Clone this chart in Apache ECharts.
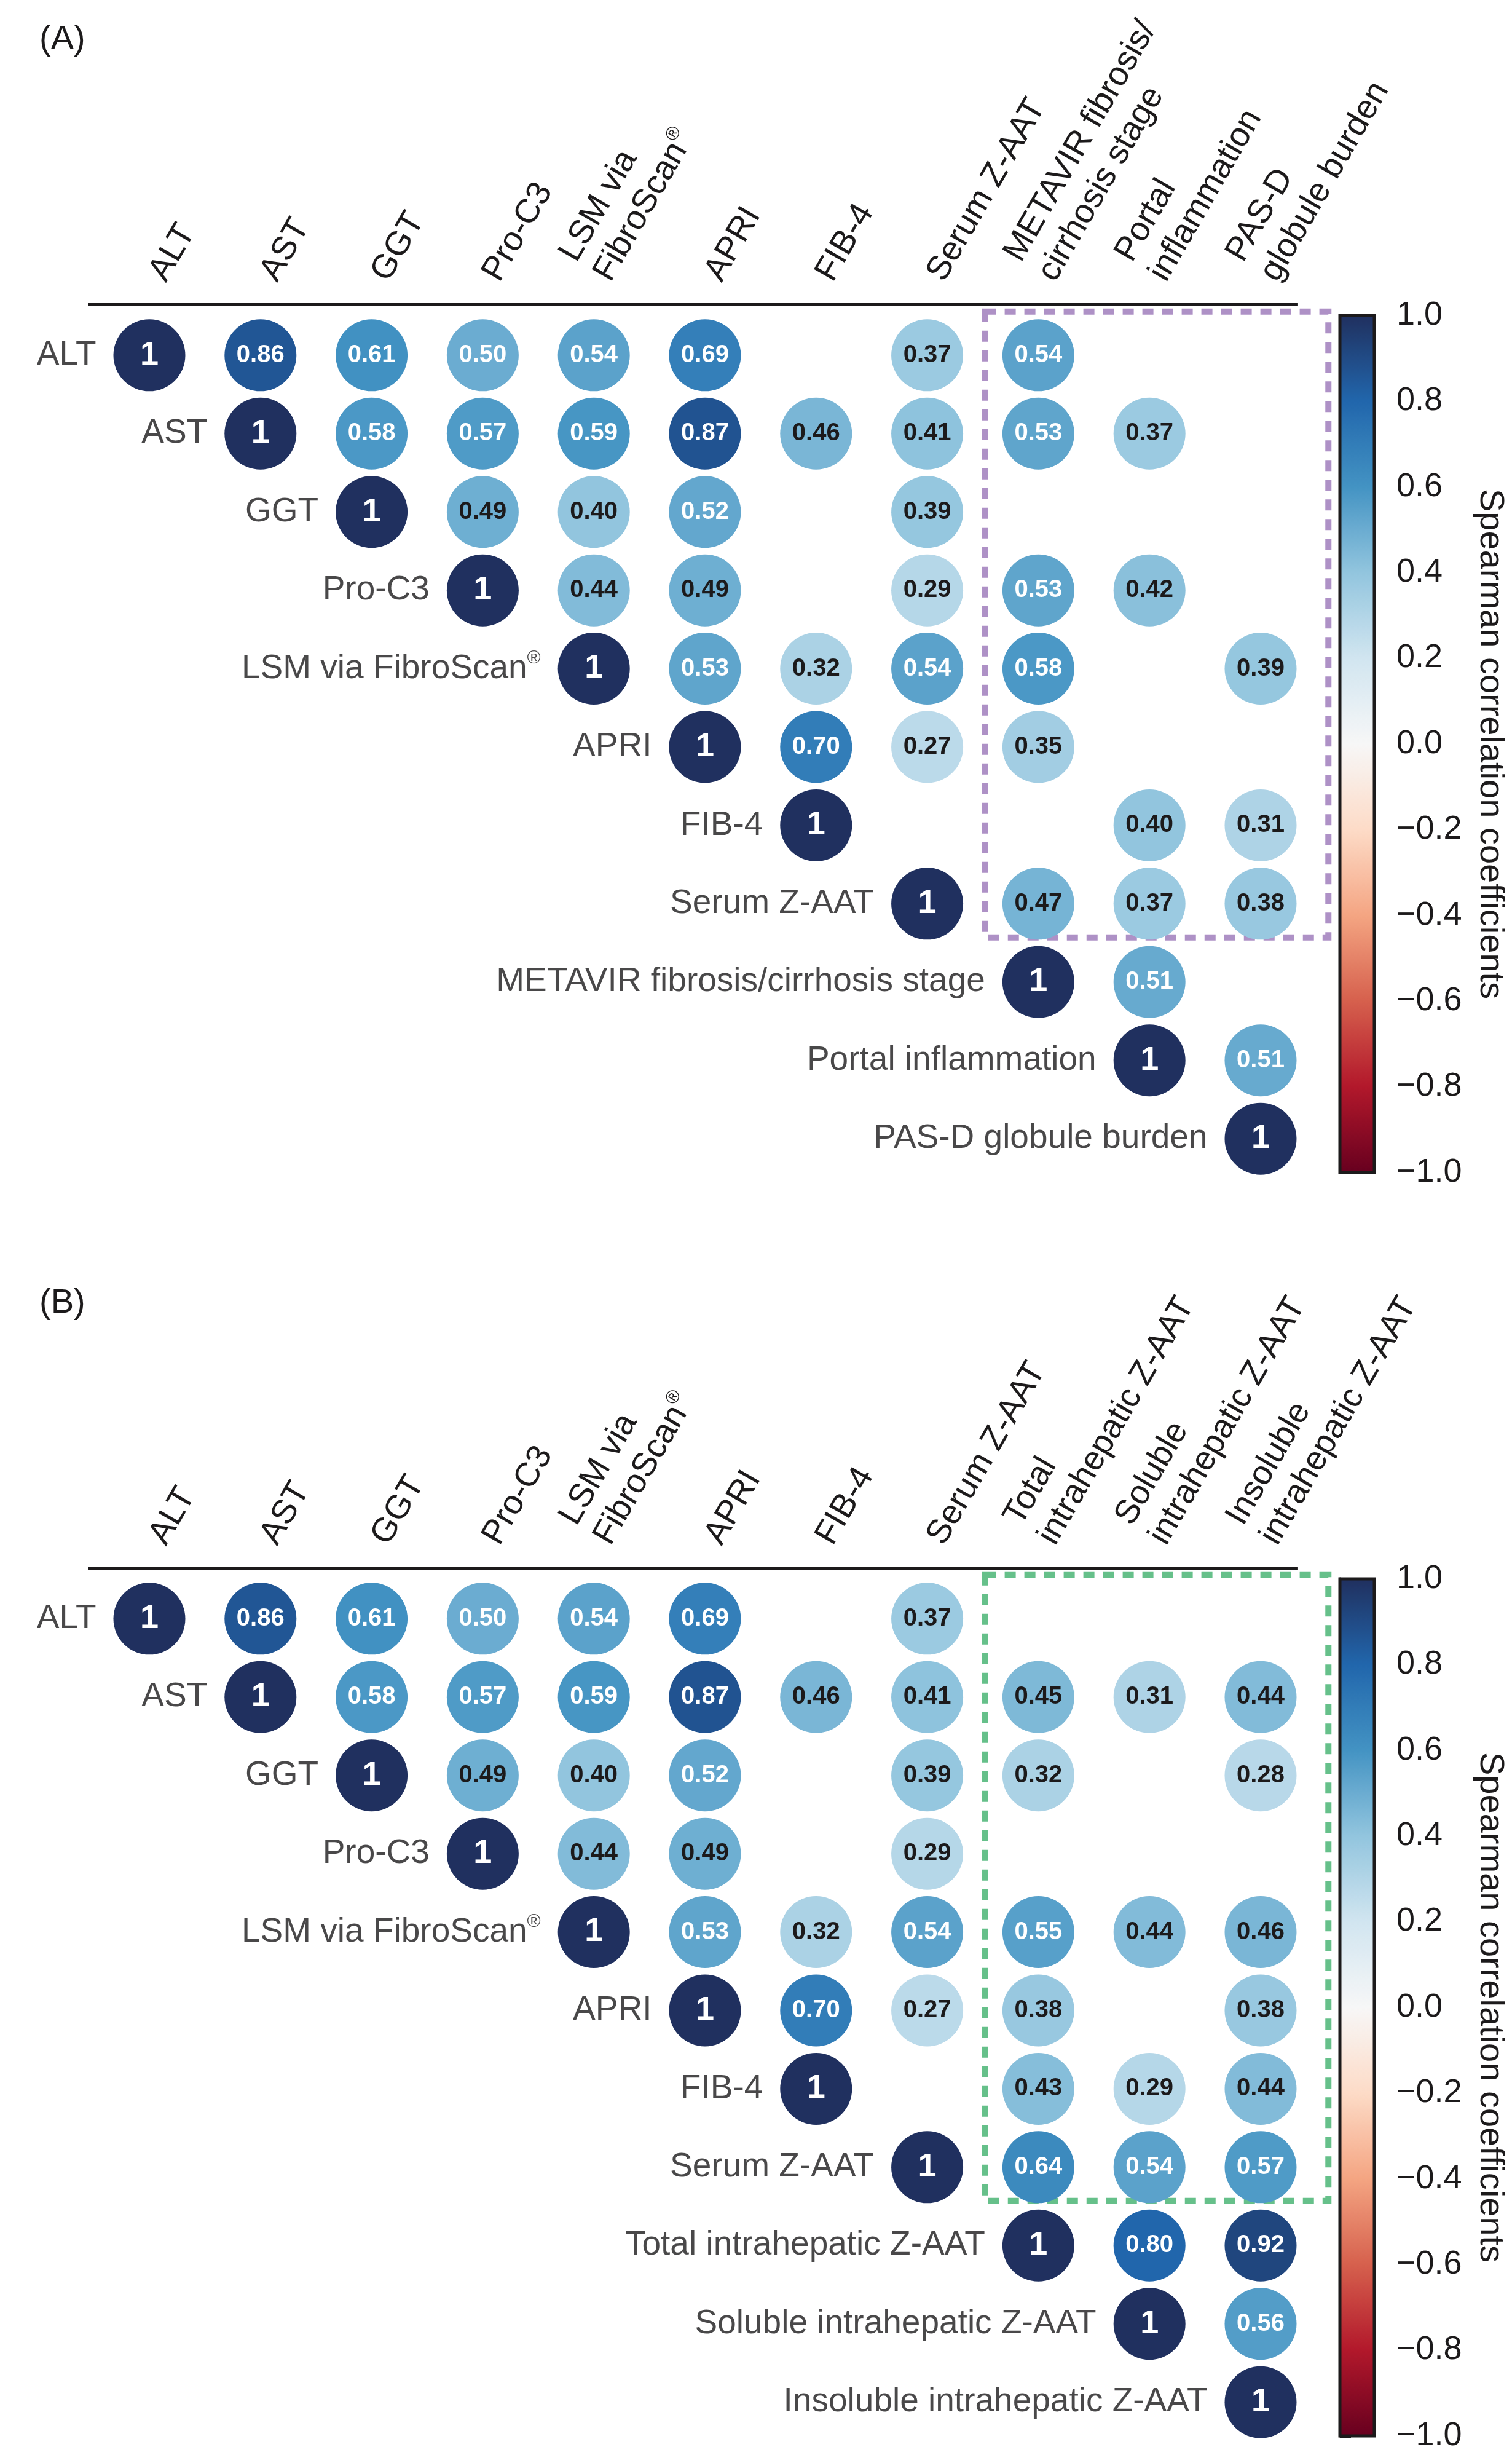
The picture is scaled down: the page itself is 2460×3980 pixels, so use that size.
<!DOCTYPE html>
<html>
<head>
<meta charset="utf-8">
<title>Spearman correlation matrices</title>
<script src="https://cdn.jsdelivr.net/npm/echarts@6/dist/echarts.min.js"></script>
<style>
  html, body { margin: 0; padding: 0; background: #ffffff; }
  #chart { width: 2460px; height: 3980px; }
</style>
</head>
<body>
<div id="chart"></div>
<script>
// ---- Variables (columns / rows) ----
const colLabelsA = ['ALT', 'AST', 'GGT', 'Pro-C3', 'LSM via\nFibroScan{r|®}', 'APRI', 'FIB-4',
  'Serum Z-AAT', 'METAVIR fibrosis/\ncirrhosis stage', 'Portal\ninflammation', 'PAS-D\nglobule burden'];
const rowLabelsA = ['ALT', 'AST', 'GGT', 'Pro-C3', 'LSM via FibroScan{r|®}', 'APRI', 'FIB-4',
  'Serum Z-AAT', 'METAVIR fibrosis/cirrhosis stage', 'Portal inflammation', 'PAS-D globule burden'];
const colLabelsB = ['ALT', 'AST', 'GGT', 'Pro-C3', 'LSM via\nFibroScan{r|®}', 'APRI', 'FIB-4',
  'Serum Z-AAT', 'Total\nintrahepatic Z-AAT', 'Soluble\nintrahepatic Z-AAT', 'Insoluble\nintrahepatic Z-AAT'];
const rowLabelsB = ['ALT', 'AST', 'GGT', 'Pro-C3', 'LSM via FibroScan{r|®}', 'APRI', 'FIB-4',
  'Serum Z-AAT', 'Total intrahepatic Z-AAT', 'Soluble intrahepatic Z-AAT', 'Insoluble intrahepatic Z-AAT'];

// ---- Significant Spearman coefficients (upper triangle, null = not shown) ----
const _ = null;
const corrA = [
  [1, 0.86, 0.61, 0.50, 0.54, 0.69, _, 0.37, 0.54, _, _],
  [_, 1, 0.58, 0.57, 0.59, 0.87, 0.46, 0.41, 0.53, 0.37, _],
  [_, _, 1, 0.49, 0.40, 0.52, _, 0.39, _, _, _],
  [_, _, _, 1, 0.44, 0.49, _, 0.29, 0.53, 0.42, _],
  [_, _, _, _, 1, 0.53, 0.32, 0.54, 0.58, _, 0.39],
  [_, _, _, _, _, 1, 0.70, 0.27, 0.35, _, _],
  [_, _, _, _, _, _, 1, _, _, 0.40, 0.31],
  [_, _, _, _, _, _, _, 1, 0.47, 0.37, 0.38],
  [_, _, _, _, _, _, _, _, 1, 0.51, _],
  [_, _, _, _, _, _, _, _, _, 1, 0.51],
  [_, _, _, _, _, _, _, _, _, _, 1]
];
const corrB = [
  [1, 0.86, 0.61, 0.50, 0.54, 0.69, _, 0.37, _, _, _],
  [_, 1, 0.58, 0.57, 0.59, 0.87, 0.46, 0.41, 0.45, 0.31, 0.44],
  [_, _, 1, 0.49, 0.40, 0.52, _, 0.39, 0.32, _, 0.28],
  [_, _, _, 1, 0.44, 0.49, _, 0.29, _, _, _],
  [_, _, _, _, 1, 0.53, 0.32, 0.54, 0.55, 0.44, 0.46],
  [_, _, _, _, _, 1, 0.70, 0.27, 0.38, _, 0.38],
  [_, _, _, _, _, _, 1, _, 0.43, 0.29, 0.44],
  [_, _, _, _, _, _, _, 1, 0.64, 0.54, 0.57],
  [_, _, _, _, _, _, _, _, 1, 0.80, 0.92],
  [_, _, _, _, _, _, _, _, _, 1, 0.56],
  [_, _, _, _, _, _, _, _, _, _, 1]
];

// Colour scale (diverging, red = negative, blue = positive), evenly spaced from -1 to 1
const rdBu = ['#67001f', '#b2182b', '#d6604d', '#f4a582', '#fddbc7', '#f7f7f7',
  '#d1e5f0', '#92c5de', '#4393c3', '#2166ac', '#20305f'];

const INK = '#1c1a1b';
const FONT = "'Liberation Sans', Arial, Helvetica, sans-serif";
const PANEL_SHIFT = 2055;

// Horizontal extent of each matrix panel, in column units
const X_MIN = -0.553, X_MAX = 10.75, RULE_END = 10.337;
const Y_MIN = -0.65, Y_MAX = 10.65;
const UNIT_X = 180.8;

const supRich = { r: { fontSize: 30, lineHeight: 46, verticalAlign: 'top', color: INK, fontFamily: FONT } };

function circleData(corr) {
  const out = [];
  corr.forEach((row, r) => row.forEach((v, c) => {
    if (v === null) return;
    out.push({
      value: [c, r, v],
      label: { fontSize: v === 1 ? 54 : 40, color: v >= 0.5 ? '#ffffff' : INK }
    });
  }));
  return out;
}

function panelAxes(idx, colLabels) {
  const x = {
    gridIndex: idx, type: 'value', position: 'top',
    min: X_MIN, max: X_MAX,
    axisLine: { show: false },
    axisTick: { show: false },
    splitLine: { show: false },
    axisLabel: {
      show: true,
      customValues: colLabels.map((s, i) => i + 0.23),
      formatter: (v) => colLabels[Math.round(v)],
      rotate: 60, align: 'left', verticalAlign: 'bottom',
      margin: 26, fontSize: 55, lineHeight: 64, color: INK, fontFamily: FONT,
      rich: supRich
    }
  };
  const y = { gridIndex: idx, type: 'value', inverse: true, min: Y_MIN, max: Y_MAX, show: false };
  return [x, y];
}

function colorbarAxes(idx) {
  const x = { gridIndex: idx, type: 'value', show: false, min: 0, max: 1 };
  const y = {
    gridIndex: idx, type: 'value', position: 'right',
    min: -1, max: 1, interval: 0.2,
    axisLine: { show: true, lineStyle: { color: INK, width: 5 } },
    axisTick: { show: true, length: 18, lineStyle: { color: INK, width: 5 } },
    splitLine: { show: false },
    axisLabel: {
      margin: 36, fontSize: 54, color: INK, fontFamily: FONT,
      formatter: (v) => (v < -1e-9 ? '\u2212' : '') + Math.abs(v).toFixed(1)
    },
    name: 'Spearman correlation coefficients',
    nameLocation: 'middle', nameRotate: -90, nameGap: 160,
    nameTextStyle: { fontSize: 56, color: INK, fontFamily: FONT }
  };
  return [x, y];
}

function circleSeries(idx, corr, boxColor) {
  return {
    type: 'scatter', xAxisIndex: idx, yAxisIndex: idx,
    symbol: 'circle', symbolSize: 117, clip: false,
    itemStyle: { opacity: 1 },
    data: circleData(corr),
    label: {
      show: true, position: 'inside', fontWeight: 'bold', fontFamily: FONT,
      formatter: (p) => (p.value[2] === 1 ? '1' : p.value[2].toFixed(2))
    },
    emphasis: { disabled: true },
    // black rule along the top of the matrix
    markLine: {
      silent: true, symbol: 'none', label: { show: false },
      lineStyle: { color: INK, width: 5, type: 'solid', opacity: 1 },
      data: [[{ coord: [X_MIN, Y_MIN] }, { coord: [RULE_END, Y_MIN] }]]
    },
    // dashed frame around the highlighted block
    markArea: {
      silent: true,
      label: { show: false },
      itemStyle: { color: 'rgba(0,0,0,0)', borderColor: boxColor, borderWidth: 10, borderType: [18, 14], opacity: 1 },
      data: [[{ coord: [7.52, -0.557] }, { coord: [10.61, 7.43] }]]
    }
  };
}

function rowLabelSeries(idx, rowLabels) {
  return {
    type: 'scatter', xAxisIndex: idx, yAxisIndex: idx,
    symbol: 'circle', symbolSize: 117, clip: false, silent: true,
    itemStyle: { color: 'rgba(0,0,0,0)' },
    data: rowLabels.map((s, i) => [i, i]),
    label: {
      show: true, position: 'left', distance: 28,
      fontSize: 55, lineHeight: 64, color: INK, fontFamily: FONT,
      formatter: (p) => rowLabels[p.dataIndex],
      rich: supRich
    },
    emphasis: { disabled: true }
  };
}

const [xA, yA] = panelAxes(0, colLabelsA);
const [xB, yB] = panelAxes(1, colLabelsB);
const [xCA, yCA] = colorbarAxes(2);
const [xCB, yCB] = colorbarAxes(3);

const titleStyle = { fontSize: 56, fontWeight: 'normal', color: INK, fontFamily: "'Liberation Sans Narrow', " + FONT };
const panelWidth = (X_MAX - X_MIN) * UNIT_X;

const option = {
  animation: false,
  backgroundColor: '#ffffff',
  title: [
    { text: '(A)', left: 64, top: 37, padding: 0, textStyle: titleStyle },
    { text: '(B)', left: 64, top: 37 + PANEL_SHIFT, padding: 0, textStyle: titleStyle }
  ],
  grid: [
    { left: 143, top: 495, width: panelWidth, height: 1440, containLabel: false, outerBoundsMode: 'none' },
    { left: 143, top: 495 + PANEL_SHIFT, width: panelWidth, height: 1440, containLabel: false, outerBoundsMode: 'none' },
    { left: 2180, top: 513, width: 56, height: 1394, show: true, z: 5,
      borderColor: INK, borderWidth: 5, backgroundColor: 'rgba(0,0,0,0)', containLabel: false, outerBoundsMode: 'none' },
    { left: 2180, top: 513 + PANEL_SHIFT, width: 56, height: 1394, show: true, z: 5,
      borderColor: INK, borderWidth: 5, backgroundColor: 'rgba(0,0,0,0)', containLabel: false, outerBoundsMode: 'none' }
  ],
  xAxis: [xA, xB, xCA, xCB],
  yAxis: [yA, yB, yCA, yCB],
  visualMap: [
    { type: 'continuous', min: -1, max: 1, dimension: 2, seriesIndex: [0],
      left: 2180, top: 513, itemWidth: 56, itemHeight: 1394, padding: 0,
      calculable: false, hoverLink: false, text: null, showLabel: false,
      inRange: { color: rdBu } },
    { type: 'continuous', min: -1, max: 1, dimension: 2, seriesIndex: [2],
      left: 2180, top: 513 + PANEL_SHIFT, itemWidth: 56, itemHeight: 1394, padding: 0,
      calculable: false, hoverLink: false, text: null, showLabel: false,
      inRange: { color: rdBu } }
  ],
  series: [
    circleSeries(0, corrA, '#ae91c6'),
    rowLabelSeries(0, rowLabelsA),
    circleSeries(1, corrB, '#66c08a'),
    rowLabelSeries(1, rowLabelsB)
  ]
};

const chart = echarts.init(document.getElementById('chart'), null, { renderer: 'canvas', width: 2460, height: 3980 });
chart.setOption(option);
</script>
</body>
</html>
